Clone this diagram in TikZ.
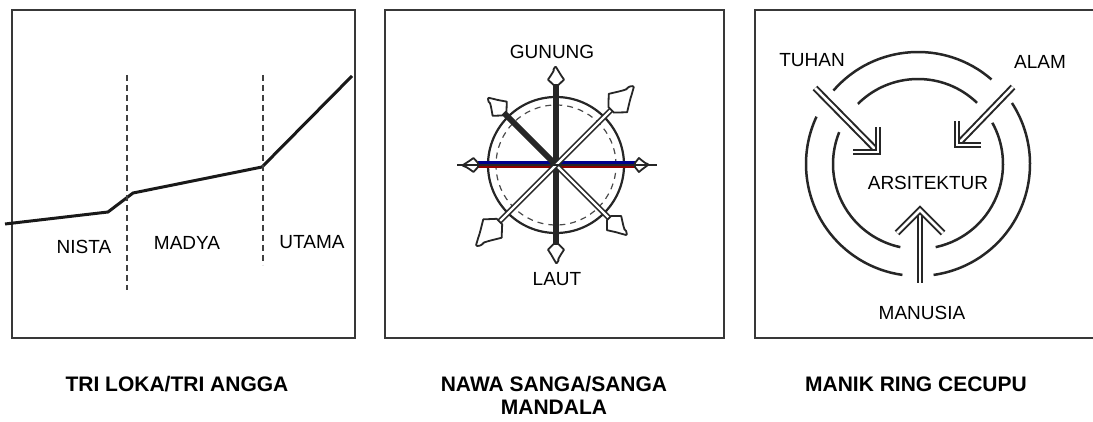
\documentclass[tikz,border=0pt]{standalone}
\usepackage{fontspec}
\setmainfont{Liberation Sans}
\usetikzlibrary{calc}
\tikzset{
 frame/.style={draw=black!78, line width=1.5pt},
 lbl/.style={font=\fontsize{19}{22}\selectfont, text=black, inner sep=0pt},
 captxt/.style={font=\bfseries\fontsize{21}{23}\selectfont, align=center, inner sep=0pt},
 profile/.style={line width=3pt, line join=round, draw=black!90},
 divider/.style={line width=1.4pt, dash pattern=on 6pt off 4pt, draw=black!75},
 dbl/.style={draw=black!85, line width=1.6pt, double=white, double distance=2.2pt},
 dblthick/.style={draw=black!85, line width=2pt, double=white, double distance=2.6pt},
 ring/.style={line width=2.5pt, draw=black!85},
 petal/.style={draw=black!85, line width=1.8pt, fill=white, line join=round},
}
\newcommand\nwpetal[4]{%
 \begin{scope}[shift={(c2)},rotate=#1,xshift=#2pt,xscale=#3,yscale=#4]
 \draw[petal] (0,0.3) -- (0.3,1) .. controls (0.5,0.7) and (0.65,0.45) .. (0.78,0.3) .. controls (0.85,0.3) and (0.9,0.35) .. (1,0.12) -- (1,0) -- (0.78,-0.3) .. controls (0.65,-0.45) and (0.5,-0.7) .. (0.3,-1) -- (0,-0.3) -- cycle;
 \end{scope}}
\begin{document}
\begin{tikzpicture}[x=1pt,y=1pt]
\useasboundingbox (0,0) rectangle (1093,-422);
\fill[white] (0,0) rectangle (1093,-422);

% ---------- Panel 1 ----------
\draw[frame] (12,-10) rectangle (355,-338);
\coordinate (p0) at (5,-224);
\coordinate (p1) at (108,-212);
\coordinate (p2) at (133,-193);
\coordinate (p3) at (262,-167);
\coordinate (p4) at (352,-76);
\draw[profile] (p0) -- (p1) -- (p2) -- (p3) -- (p4);
\coordinate (d1a) at (127,-75);
\coordinate (d1b) at (127,-290);
\coordinate (d2a) at (263,-75);
\coordinate (d2b) at (263,-265);
\draw[divider] (d1a) -- (d1b);
\draw[divider] (d2a) -- (d2b);
\node[lbl] (nista) at (84,-247) {NISTA};
\node[lbl] (madya) at (187,-243) {MADYA};
\node[lbl] (utama) at (312,-242) {UTAMA};

% ---------- Panel 2 ----------
\draw[frame] (385,-10) rectangle (724,-338);
\coordinate (c2) at (556,-165);
\draw[line width=2.2pt, black!85] (c2) circle[radius=68pt];
\draw[line width=1.2pt, black!70, dash pattern=on 6pt off 5pt] (c2) circle[radius=60pt];
% stems
\draw[line width=6pt, black!85] ($(c2)+(0,80)$) -- ($(c2)+(0,-80)$);
\fill[blue!55!black] (478,-165) rectangle (638,-161.5);
\fill[red!55!black] (478,-168.5) rectangle (638,-165);
\draw[line width=6pt, black!85] (c2) -- ($(c2)+(135:75pt)$);
\draw[dbl] (c2) -- ($(c2)+(-45:76pt)$);
\draw[dbl] ($(c2)+(225:81pt)$) -- ($(c2)+(45:79pt)$);
% heads
\nwpetal{90}{80}{18}{8}
\nwpetal{270}{79}{19}{8}
\nwpetal{0}{79}{13}{7}
\nwpetal{180}{78}{15}{7}
\nwpetal{45}{78}{32}{13}
\nwpetal{225}{80}{33}{13}
\nwpetal{135}{73}{22}{10}
\nwpetal{315}{75}{24}{10}
\coordinate (hw) at (457,-165);
\coordinate (he) at (657,-165);
\draw[line width=1.5pt, black!85] (hw) -- (he);
\node[lbl] (gunung) at (552,-52) {GUNUNG};
\node[lbl] (laut) at (557,-279) {LAUT};

% ---------- Panel 3 ----------
\draw[frame] (1093,-10) -- (755,-10) -- (755,-338) -- (1093,-338);
\coordinate (c3) at (918,-164);
% outer ring with gaps
\draw[ring] ($(c3)+(49:112pt)$) arc[start angle=49, end angle=139, radius=112pt];
\draw[ring] ($(c3)+(155:112pt)$) arc[start angle=155, end angle=262, radius=112pt];
\draw[ring] ($(c3)+(278:112pt)$) arc[start angle=278, end angle=393, radius=112pt];
% inner ring with gaps
\draw[ring] ($(c3)+(46:85pt)$) arc[start angle=46, end angle=135, radius=85pt];
\draw[ring] ($(c3)+(158:85pt)$) arc[start angle=158, end angle=258, radius=85pt];
\draw[ring] ($(c3)+(282:85pt)$) arc[start angle=282, end angle=389, radius=85pt];
% arrows
\coordinate (t0) at (815,-88);
\coordinate (t1) at (876,-150);
\coordinate (tt) at (878,-152);
\draw[dblthick] (t0) -- (t1);
\draw[dblthick] ($(tt)+(-25,0)$) -- (tt) -- ($(tt)+(0,25)$);
\coordinate (a0) at (1013,-87);
\coordinate (a1) at (959,-143);
\coordinate (at) at (957,-145);
\draw[dblthick] (a0) -- (a1);
\draw[dblthick] ($(at)+(24,0)$) -- (at) -- ($(at)+(0,24)$);
\coordinate (m0) at (920,-283);
\coordinate (m1) at (920,-213);
\coordinate (mt) at (920,-210);
\draw[dblthick] (m0) -- (m1);
\draw[dblthick] ($(mt)+(-23,-23)$) -- (mt) -- ($(mt)+(23,-23)$);
\node[lbl] (tuhan) at (812,-60) {TUHAN};
\node[lbl] (alam) at (1040,-62) {ALAM};
\node[lbl] (arsi) at (928,-183) {ARSITEKTUR};
\node[lbl] (manusia) at (922,-313) {MANUSIA};

% ---------- captions ----------
\node[captxt] (cap1) at (177,-384) {TRI LOKA/TRI ANGGA};
\node[captxt, anchor=north] (cap2) at (554,-376) {NAWA SANGA/SANGA\\MANDALA};
\node[captxt] (cap3) at (916,-384) {MANIK RING CECUPU};
\end{tikzpicture}
\end{document}
